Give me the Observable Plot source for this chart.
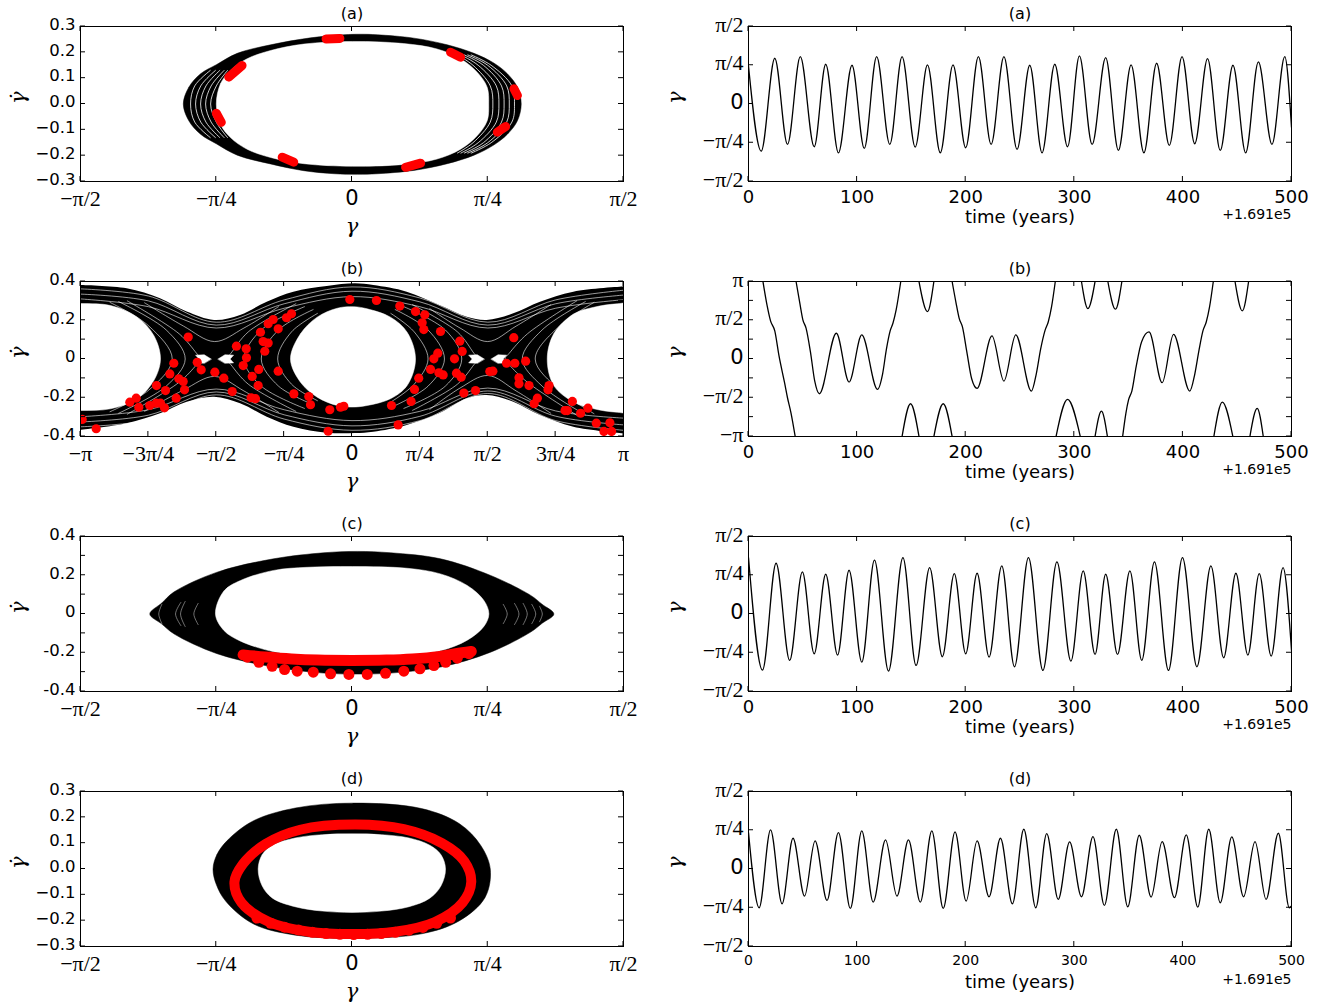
<!DOCTYPE html>
<html><head><meta charset="utf-8">
<script src="https://cdn.jsdelivr.net/npm/d3@7"></script>
<script src="https://cdn.jsdelivr.net/npm/@observablehq/plot@0.6"></script>
<style>
body{margin:0;background:#fff;}
#root{position:relative;width:1326px;height:1005px;background:#fff;overflow:hidden;}
#root svg{position:absolute;overflow:visible;}
</style></head><body><div id="root"></div>
<script>
const PI = Math.PI;

// ---------- tick values and labels ----------
const halfPiTickVals = [-PI/2, -PI/4, 0, PI/4, PI/2];
const halfPiTickLabels = ["−π/2", "−π/4", "0", "π/4", "π/2"];
const fullPiTickVals = [-PI, -3*PI/4, -PI/2, -PI/4, 0, PI/4, PI/2, 3*PI/4, PI];
const fullPiTickLabels = ["−π", "−3π/4", "−π/2", "−π/4", "0", "π/4", "π/2", "3π/4", "π"];
const yTicks03 = [0.3, 0.2, 0.1, 0, -0.1, -0.2, -0.3];
const yLabels03 = ["0.3", "0.2", "0.1", "0.0", "−0.1", "−0.2", "−0.3"];
const yTicks04 = [0.4, 0.3, 0.2, 0.1, 0, -0.1, -0.2, -0.3, -0.4];
const yLabelVals04 = [0.4, 0.2, 0, -0.2, -0.4];
const yLabels04 = ["0.4", "0.2", "0", "-0.2", "-0.4"];
const timeTicks = [0, 100, 200, 300, 400, 500];
const timeLabels = ["0", "100", "200", "300", "400", "500"];
const gammaLabelValsB = [-PI, -PI/2, 0, PI/2, PI];
const gammaLabelsB = ["−π", "−π/2", "0", "π/2", "π"];
const panelTitles = ["(a)", "(b)", "(c)", "(d)"];

// ---------- panel (a): phase portrait ----------
const aOuter = [[-0.976,0],[-0.944,0.065],[-0.876,0.117],[-0.785,0.152],[-0.664,0.196],[-0.471,0.229],[-0.240,0.256],[-0.048,0.268],[0.05,0.270],[0.146,0.268],[0.358,0.255],[0.551,0.229],[0.706,0.196],[0.822,0.158],[0.899,0.117],[0.957,0.065],[0.979,0],[0.957,-0.065],[0.899,-0.117],[0.822,-0.158],[0.706,-0.198],[0.551,-0.231],[0.358,-0.257],[0.146,-0.270],[0.03,-0.272],[-0.10,-0.270],[-0.28,-0.258],[-0.471,-0.232],[-0.664,-0.198],[-0.785,-0.154],[-0.876,-0.117],[-0.944,-0.065]];
const aInner = [[-0.785,0],[-0.761,0.078],[-0.703,0.130],[-0.607,0.175],[-0.471,0.207],[-0.279,0.232],[0.002,0.242],[0.299,0.234],[0.492,0.213],[0.628,0.175],[0.724,0.123],[0.782,0.065],[0.791,0],[0.782,-0.065],[0.724,-0.123],[0.628,-0.175],[0.492,-0.213],[0.299,-0.234],[0.002,-0.241],[-0.279,-0.231],[-0.471,-0.207],[-0.607,-0.175],[-0.703,-0.130],[-0.761,-0.078]];
const aGaps = [
  [[-0.82,0.13],[-0.91,0.07],[-0.934,0],[-0.91,-0.07],[-0.82,-0.13]],
  [[-0.79,0.13],[-0.875,0.07],[-0.905,0],[-0.875,-0.07],[-0.79,-0.13]],
  [[-0.765,0.13],[-0.845,0.07],[-0.876,0],[-0.845,-0.07],[-0.765,-0.13]],
  [[-0.74,0.13],[-0.815,0.07],[-0.847,0],[-0.815,-0.07],[-0.74,-0.13]],
  [[-0.72,0.13],[-0.785,0.07],[-0.818,0],[-0.785,-0.07],[-0.72,-0.13]],
  [[0.61,0.19],[0.70,0.15],[0.80,0.07],[0.815,0],[0.80,-0.07],[0.70,-0.15],[0.61,-0.19]],
  [[0.63,0.19],[0.73,0.15],[0.835,0.07],[0.850,0],[0.835,-0.07],[0.73,-0.15],[0.63,-0.19]],
  [[0.65,0.19],[0.76,0.15],[0.865,0.07],[0.880,0],[0.865,-0.07],[0.76,-0.15],[0.65,-0.19]],
  [[0.67,0.19],[0.785,0.15],[0.895,0.07],[0.910,0],[0.895,-0.07],[0.785,-0.15],[0.67,-0.19]],
  [[0.69,0.19],[0.805,0.15],[0.925,0.07],[0.940,0],[0.925,-0.07],[0.805,-0.15],[0.69,-0.19]]
];
const aRed = [
  [[-0.15,0.252],[-0.07,0.254]],
  [[0.570,0.200],[0.628,0.181]],
  [[0.937,0.059],[0.957,0.033]],
  [[0.889,-0.087],[0.841,-0.109]],
  [[0.310,-0.245],[0.397,-0.229]],
  [[-0.404,-0.206],[-0.337,-0.225]],
  [[-0.785,-0.036],[-0.756,-0.071]],
  [[-0.713,0.104],[-0.636,0.149]]
];

// ---------- panel (b): phase portrait ----------
const bEnvGamma = [-3.1416,-2.601,-2.216,-1.907,-1.591,-1.290,-0.981,-0.673,-0.287,0.040,0.252,0.638,1.024,1.333,1.564,1.872,2.181,2.567,3.1416];
const bEnvUpper = [0.379,0.362,0.311,0.242,0.199,0.225,0.293,0.345,0.374,0.388,0.379,0.345,0.275,0.216,0.199,0.233,0.293,0.345,0.371];
const bEnvLower = [-0.368,-0.334,-0.283,-0.223,-0.197,-0.231,-0.300,-0.352,-0.383,-0.385,-0.378,-0.343,-0.280,-0.205,-0.188,-0.223,-0.292,-0.352,-0.386];
const bIslandC = [[-0.712,0],[-0.596,0.130],[-0.403,0.216],[-0.171,0.262],[0.02,0.270],[0.175,0.259],[0.445,0.216],[0.638,0.138],[0.735,0],[0.638,-0.137],[0.445,-0.205],[0.175,-0.240],[0.0,-0.248],[-0.171,-0.240],[-0.403,-0.197],[-0.596,-0.120]];
const bIslandL = [[-3.6,0.286],[-3.1416,0.286],[-2.794,0.276],[-2.486,0.216],[-2.293,0.121],[-2.216,0],[-2.293,-0.111],[-2.486,-0.205],[-2.794,-0.257],[-3.1416,-0.266],[-3.6,-0.266]];
const bIslandR = [[2.259,0],[2.335,0.130],[2.567,0.233],[2.798,0.267],[3.069,0.285],[3.6,0.285],[3.6,-0.275],[3.069,-0.275],[2.798,-0.257],[2.567,-0.223],[2.335,-0.137]];
const bWedges = [
  [[-1.63,0],[-1.71,0.022],[-1.81,0.02],[-1.77,0],[-1.81,-0.02],[-1.71,-0.022]],
  [[-1.55,0],[-1.47,0.022],[-1.37,0.02],[-1.41,0],[-1.37,-0.02],[-1.47,-0.022]],
  [[1.53,0],[1.45,0.022],[1.35,0.02],[1.39,0],[1.35,-0.02],[1.45,-0.022]],
  [[1.61,0],[1.69,0.022],[1.79,0.02],[1.75,0],[1.79,-0.02],[1.69,-0.022]]
];
const bStreaks = [
  [[-3.1416,0.362],[-2.356,0.325],[-1.571,0.190],[-0.785,0.305],[0,0.372],[0.785,0.315],[1.571,0.190],[2.356,0.305],[3.1416,0.355]],
  [[-3.1416,0.335],[-2.356,0.300],[-1.571,0.175],[-0.785,0.285],[0,0.350],[0.785,0.295],[1.571,0.175],[2.356,0.285],[3.1416,0.330]],
  [[-3.1416,0.310],[-2.356,0.270],[-1.571,0.160],[-0.785,0.262],[0,0.322],[0.785,0.270],[1.571,0.160],[2.356,0.262],[3.1416,0.306]],
  [[-3.1416,-0.350],[-2.356,-0.315],[-1.571,-0.185],[-0.785,-0.310],[0,-0.368],[0.785,-0.318],[1.571,-0.178],[2.356,-0.318],[3.1416,-0.368]],
  [[-3.1416,-0.325],[-2.356,-0.290],[-1.571,-0.170],[-0.785,-0.288],[0,-0.345],[0.785,-0.296],[1.571,-0.165],[2.356,-0.295],[3.1416,-0.340]],
  [[-3.1416,-0.298],[-2.356,-0.262],[-1.571,-0.155],[-0.785,-0.262],[0,-0.318],[0.785,-0.270],[1.571,-0.150],[2.356,-0.268],[3.1416,-0.305]],
  [[-0.40,0.235],[-0.70,0.14],[-0.86,0],[-0.70,-0.13],[-0.40,-0.215]],
  [[-0.45,0.255],[-0.85,0.15],[-1.05,0],[-0.85,-0.14],[-0.45,-0.235]],
  [[-0.55,0.27],[-1.05,0.15],[-1.25,0],[-1.05,-0.14],[-0.55,-0.255]],
  [[-0.65,0.285],[-1.20,0.14],[-1.40,0.03],[-1.45,0],[-1.40,-0.03],[-1.20,-0.13],[-0.65,-0.27]],
  [[0.45,0.235],[0.72,0.14],[0.88,0],[0.72,-0.13],[0.45,-0.222]],
  [[0.50,0.255],[0.88,0.15],[1.07,0],[0.88,-0.14],[0.50,-0.24]],
  [[0.60,0.27],[1.08,0.15],[1.27,0],[1.08,-0.14],[0.60,-0.255]],
  [[0.70,0.28],[1.22,0.14],[1.41,0.03],[1.46,0],[1.41,-0.03],[1.22,-0.13],[0.70,-0.265]],
  [[-2.8,0.292],[-2.35,0.17],[-2.08,0],[-2.35,-0.16],[-2.8,-0.272]],
  [[-2.7,0.296],[-2.15,0.15],[-1.93,0],[-2.15,-0.14],[-2.7,-0.28]],
  [[-2.6,0.30],[-2.0,0.13],[-1.80,0.03],[-1.75,0],[-1.80,-0.03],[-2.0,-0.12],[-2.6,-0.285]],
  [[2.8,0.292],[2.40,0.17],[2.12,0],[2.40,-0.16],[2.8,-0.282]],
  [[2.7,0.296],[2.20,0.15],[1.97,0],[2.20,-0.14],[2.7,-0.288]],
  [[2.6,0.30],[2.03,0.13],[1.82,0.03],[1.77,0],[1.82,-0.03],[2.03,-0.12],[2.6,-0.29]],
  [[-2.4,0.29],[-1.95,0.17],[-1.59,0.09],[-1.25,0.16],[-0.85,0.27]],
  [[-2.4,-0.27],[-1.95,-0.16],[-1.59,-0.09],[-1.25,-0.165],[-0.85,-0.275]],
  [[0.9,0.26],[1.25,0.16],[1.57,0.09],[1.90,0.17],[2.3,0.28]],
  [[0.9,-0.26],[1.25,-0.15],[1.57,-0.085],[1.90,-0.165],[2.3,-0.28]]
];
const bDots = [[-3.122,-0.312],[-2.960,-0.360],[-2.571,-0.223],[-2.497,-0.202],[-2.467,-0.249],[-2.340,-0.240],[-2.266,-0.228],[-2.216,-0.228],[-2.170,-0.252],[-2.262,-0.137],[-2.158,-0.163],[-2.108,-0.077],[-2.062,-0.022],[-2.034,-0.202],[-2.004,-0.102],[-1.953,-0.116],[-1.938,-0.159],[-1.895,0.113],[-1.791,-0.017],[-1.745,-0.056],[-1.587,-0.068],[-1.483,-0.099],[-1.386,-0.168],[-1.337,0.066],[-1.259,-0.034],[-1.224,0.053],[-1.221,0.006],[-1.155,-0.090],[-1.086,-0.137],[-1.079,-0.054],[-1.167,-0.200],[-1.117,-0.205],[-1.059,0.138],[-1.009,0.040],[-1.028,0.090],[-0.970,0.082],[-0.970,0.182],[-0.912,0.204],[-0.854,0.156],[-0.854,-0.063],[-0.758,0.213],[-0.700,0.233],[-0.673,-0.180],[-0.500,-0.194],[-0.480,-0.236],[-0.257,-0.262],[-0.276,-0.373],[-0.133,-0.249],[-0.095,-0.244],[-0.025,0.307],[0.283,0.302],[0.553,0.273],[0.735,0.245],[0.842,0.228],[0.812,0.187],[0.831,0.152],[1.024,0.142],[1.247,0.092],[1.275,0.039],[1.186,0.001],[0.993,0.030],[0.947,0.001],[0.909,-0.054],[1.005,-0.071],[1.055,-0.082],[1.209,-0.073],[1.263,-0.094],[0.772,-0.099],[0.723,-0.157],[0.684,-0.219],[0.457,-0.240],[0.534,-0.340],[1.294,-0.176],[1.429,-0.163],[1.595,-0.065],[1.630,-0.063],[1.872,0.110],[1.788,-0.022],[1.884,-0.022],[2.009,-0.011],[1.932,-0.097],[1.932,-0.128],[2.048,-0.137],[2.280,-0.137],[2.268,-0.159],[2.145,-0.202],[2.107,-0.231],[2.550,-0.219],[2.492,-0.266],[2.465,-0.266],[2.645,-0.280],[2.730,-0.254],[2.827,-0.331],[2.984,-0.329],[2.915,-0.374],[3.004,-0.374]];

// ---------- panel (c): phase portrait ----------
const cOuter = [[-1.170,0],[-1.10,0.057],[-1.031,0.113],[-0.780,0.216],[-0.453,0.285],[-0.163,0.316],[0.030,0.323],[0.223,0.316],[0.512,0.285],[0.802,0.199],[1.034,0.096],[1.10,0.050],[1.168,0],[1.10,-0.048],[1.034,-0.093],[0.802,-0.197],[0.512,-0.274],[0.223,-0.305],[0.030,-0.310],[-0.163,-0.305],[-0.453,-0.274],[-0.780,-0.205],[-1.031,-0.102],[-1.10,-0.052]];
const cInner = [[-0.790,0],[-0.741,0.119],[-0.645,0.173],[-0.453,0.225],[-0.260,0.241],[0.002,0.245],[0.320,0.236],[0.512,0.207],[0.667,0.147],[0.763,0.070],[0.792,0],[0.763,-0.064],[0.667,-0.135],[0.512,-0.190],[0.320,-0.215],[0.002,-0.223],[-0.260,-0.218],[-0.453,-0.195],[-0.645,-0.140],[-0.741,-0.085]];
const cGaps = [
  [[-1.10,0.05],[-1.118,0],[-1.10,-0.05]],
  [[-0.99,0.06],[-1.021,0],[-0.99,-0.06]],
  [[-0.965,0.065],[-0.992,0],[-0.965,-0.065]],
  [[-0.89,0.055],[-0.915,0],[-0.89,-0.055]],
  [[0.875,0.05],[0.898,0],[0.875,-0.05]],
  [[0.94,0.055],[0.966,0],[0.94,-0.055]],
  [[0.99,0.055],[1.014,0],[0.99,-0.055]],
  [[1.04,0.05],[1.063,0],[1.04,-0.05]],
  [[1.085,0.04],[1.101,0],[1.085,-0.04]]
];
const cRedUpper = [[-0.63,-0.211],[-0.5,-0.222],[-0.35,-0.232],[-0.2,-0.238],[0,-0.240],[0.2,-0.238],[0.35,-0.232],[0.5,-0.220],[0.6,-0.205],[0.69,-0.193]];
const cRedLower = [[-0.606,-0.223],[-0.539,-0.249],[-0.462,-0.270],[-0.390,-0.287],[-0.317,-0.295],[-0.224,-0.300],[-0.124,-0.309],[-0.018,-0.312],[0.088,-0.312],[0.194,-0.306],[0.300,-0.295],[0.393,-0.283],[0.474,-0.266],[0.542,-0.249],[0.609,-0.228],[0.676,-0.205]];

// ---------- panel (d): phase portrait ----------
const dOuter = [[-0.804,0],[-0.782,0.055],[-0.722,0.110],[-0.572,0.186],[-0.328,0.236],[0.0,0.255],[0.402,0.234],[0.622,0.175],[0.744,0.092],[0.800,0],[0.770,-0.110],[0.622,-0.200],[0.402,-0.251],[0.0,-0.268],[-0.328,-0.256],[-0.572,-0.212],[-0.730,-0.125],[-0.785,-0.060]];
const dInner = [[-0.543,0],[-0.52,0.055],[-0.46,0.092],[-0.33,0.120],[-0.17,0.133],[0.0,0.136],[0.17,0.133],[0.33,0.120],[0.45,0.092],[0.515,0.055],[0.541,0],[0.515,-0.065],[0.45,-0.113],[0.33,-0.146],[0.17,-0.163],[0.0,-0.168],[-0.17,-0.163],[-0.33,-0.146],[-0.46,-0.113],[-0.52,-0.065]];
const dRedRing = [[0.02,0.172],[-0.3,0.152],[-0.5,0.097],[-0.63,0.02],[-0.68,-0.05],[-0.64,-0.13],[-0.48,-0.205],[-0.25,-0.243],[0.0,-0.252],[0.25,-0.243],[0.48,-0.205],[0.64,-0.13],[0.69,-0.05],[0.65,0.03],[0.52,0.10],[0.30,0.154]];
const dRedDots = [[-0.55,-0.19],[-0.47,-0.21],[-0.39,-0.225],[-0.31,-0.236],[-0.23,-0.245],[-0.15,-0.25],[-0.07,-0.253],[0.01,-0.254],[0.09,-0.253],[0.17,-0.25],[0.25,-0.245],[0.33,-0.237],[0.41,-0.226],[0.49,-0.21],[0.57,-0.19]];

// ---------- time series: [time (yr), gamma in units of pi/4] ----------
const tsA = [[0,0.98],[11.7,-1.216],[24.2,1.181],[35.9,-1.043],[47.7,1.224],[60.5,-1.103],[71.1,1.026],[82.8,-1.259],[95.3,1.0],[106.6,-1.147],[118.0,1.224],[130.1,-1.043],[141.4,1.224],[153.5,-1.112],[164.8,1.009],[176.6,-1.259],[188.3,1.009],[200,-1.129],[211.7,1.224],[223.4,-1.043],[235.2,1.224],[247.3,-1.172],[259.0,1.0],[270.3,-1.259],[282.0,1.026],[293.8,-1.103],[304.7,1.241],[316.4,-1.043],[328.9,1.198],[340.6,-1.198],[352.3,1.009],[364.1,-1.259],[375.8,1.052],[387.5,-1.069],[399.2,1.224],[410.9,-1.026],[422.7,1.172],[434.4,-1.198],[446.1,1.0],[457.8,-1.259],[469.5,1.086],[482.0,-1.043],[493.8,1.224],[500,-0.6]];
const tsC = [[0,1.457],[12.9,-1.448],[25.4,1.310],[37.9,-1.198],[49.6,1.086],[60.5,-1.026],[71.1,1.026],[82.0,-1.060],[92.6,1.129],[104.3,-1.241],[116.0,1.388],[128.9,-1.474],[142.2,1.457],[154.3,-1.328],[166.8,1.198],[178.5,-1.103],[189.5,1.043],[200,-1.026],[210.5,1.052],[221.5,-1.112],[233.2,1.241],[244.9,-1.362],[257.8,1.457],[271.1,-1.457],[284.0,1.345],[296.9,-1.216],[308.2,1.112],[319.1,-1.043],[328.9,1.026],[339.8,-1.043],[351.2,1.112],[362.1,-1.198],[373.8,1.345],[386.7,-1.457],[399.6,1.457],[412.9,-1.362],[425.8,1.241],[437.5,-1.129],[448.8,1.052],[459.8,-1.060],[470.3,1.043],[481.3,-1.086],[492.2,1.198],[500,-0.94]];
const tsD = [[0,0.94],[9.8,-1.0],[20.3,1.009],[30.9,-0.897],[41.0,0.793],[51.6,-0.698],[61.3,0.724],[72.3,-0.810],[82.8,0.940],[93.8,-1.017],[104.3,0.983],[114.8,-0.853],[126.2,0.750],[136.7,-0.698],[147.3,0.750],[158.2,-0.853],[168.8,0.983],[179.3,-1.017],[190.2,0.957],[200.4,-0.828],[210.5,0.724],[221.5,-0.716],[232.0,0.793],[243.0,-0.897],[253.5,1.026],[264.5,-1.0],[274.6,0.914],[285.2,-0.784],[295.7,0.698],[306.6,-0.716],[317.2,0.836],[327.7,-0.940],[338.7,1.026],[349.2,-0.974],[359.8,0.871],[370.7,-0.724],[380.9,0.707],[392.2,-0.741],[403.1,0.879],[413.7,-0.983],[423.8,1.026],[434.4,-0.871],[445.0,0.828],[455.9,-0.716],[466.4,0.707],[476.6,-0.784],[487.9,0.922],[498.0,-1.0],[500,-0.95]];
// (b) wrapped angle, radians, one array per continuous piece
const tsB = [
  [[13.3,3.1416],[17.2,2.153],[20.3,1.544],[24.2,1.137],[28.1,0.122],[33.2,-0.961],[35.9,-1.571],[39.1,-2.180],[43.0,-3.1416]],
  [[43.8,3.1416],[47.5,2.2],[50.0,1.6],[53.0,1.25],[57.0,0.3],[61.0,-0.9],[65.2,-1.408],[80.9,1.043],[92.6,-0.934],[104.3,0.975],[118.8,-1.232],[123.5,-0.6],[127.0,0.4],[130.5,1.15],[133.0,1.45],[136.0,2.0],[140.2,3.1416]],
  [[141.4,-3.1416],[149.2,-1.814],[157.0,-3.1416]],
  [[157.0,3.1416],[164.8,1.923],[170.7,3.1416]],
  [[170.7,-3.1416],[179.3,-1.814],[187.5,-3.1416]],
  [[187.5,3.1416],[191.0,2.3],[194.0,1.65],[197.0,1.3],[201.0,0.3],[205.5,-0.8],[210.5,-1.192],[224.2,0.934],[235.2,-0.894],[246.1,0.975],[260.5,-1.300],[265.0,-0.6],[269.0,0.4],[273.0,1.15],[276.0,1.5],[279.0,2.1],[282.5,3.1416]],
  [[283.2,-3.1416],[293.8,-1.638],[305.5,-3.1416]],
  [[306.6,3.1416],[312.5,2.045],[319.1,3.1416]],
  [[319.1,-3.1416],[325.0,-2.112],[330.5,-3.1416]],
  [[330.9,3.1416],[337.9,2.018],[343.8,3.1416]],
  [[344.5,-3.1416],[347.5,-2.2],[350.0,-1.65],[353.0,-1.3],[357.0,-0.3],[362.0,0.7],[368.8,1.097],[380.9,-0.961],[391.4,1.002],[406.3,-1.300],[411.0,-0.6],[415.0,0.4],[418.5,1.15],[421.5,1.5],[424.5,2.1],[428.0,3.1416]],
  [[428.5,-3.1416],[436.3,-1.747],[446.0,-3.1416]],
  [[448.0,3.1416],[454.7,1.950],[460.5,3.1416]],
  [[461.7,-3.1416],[468.4,-2.004],[474.0,-3.1416]]
];

// ---------- helpers ----------
const SANS = "DejaVu Sans";
const SERIF = "Liberation Serif";
const MATH = "DejaVu Serif";
const root = document.getElementById("root");
const flat = (arr) => arr.flatMap((pts, id) => pts.map(([x, y]) => ({x, y, id})));
const pairs = (arr) => arr.map(([x, y]) => ({x, y}));

function shape(pts, color) {
  return Plot.line(pairs(pts), {x: "x", y: "y", curve: "catmull-rom-closed", fill: color, stroke: color, strokeWidth: 0.5, clip: true});
}
function arcs(list, color, w) {
  return Plot.line(flat(list), {x: "x", y: "y", z: "id", curve: "catmull-rom", stroke: color, strokeWidth: w, clip: true});
}

function tickText(axis, vals, labels, font, size, zeroFont, zeroSize) {
  const rows = vals.map((v, i) => ({v, label: labels[i]}));
  const isZero = d => zeroFont && d.label === "0";
  const base = axis === "x"
    ? {x: "v", text: "label", frameAnchor: "bottom", dy: 9, lineAnchor: "top", fill: "black"}
    : {y: "v", text: "label", frameAnchor: "left", dx: -5, dy: -2, textAnchor: "end", lineAnchor: "middle", fill: "black"};
  const out = [Plot.text(rows.filter(d => !isZero(d)), {...base, fontFamily: font, fontSize: size})];
  if (zeroFont) out.push(Plot.text(rows.filter(isZero), {...base, fontFamily: zeroFont, fontSize: zeroSize}));
  return out;
}

function panel(cfg) {
  const W = 663, H = 255;
  const mL = cfg.mL, mR = W - mL - 543;
  const marks = [
    ...cfg.marks,
    Plot.frame({stroke: "black", strokeWidth: 1}),
    ...cfg.labels,
    Plot.text([cfg.title], {text: d => d, frameAnchor: "top", dy: -13, lineAnchor: "middle", fontFamily: SANS, fontSize: 16, fill: "black"})
  ];
  const chart = Plot.plot({
    width: W, height: H,
    marginLeft: mL, marginRight: mR, marginTop: 26, marginBottom: 74,
    x: {domain: cfg.xDomain, axis: null},
    y: {domain: cfg.yDomain, axis: null},
    style: {background: "transparent", overflow: "visible"},
    marks
  });
  chart.style.left = cfg.left + "px";
  chart.style.top = cfg.top + "px";
  root.appendChild(chart);
  // inward ticks on all four sides, positioned by Plot's scales
  const sx = chart.scale("x"), sy = chart.scale("y");
  const [xl, xr] = sx.range, [yb, yt] = sy.range;
  const g = d3.select(chart).append("g").attr("stroke", "black").attr("stroke-width", 1);
  const L = 5;
  for (const v of cfg.xTicks) {
    const p = sx.apply(v);
    g.append("line").attr("x1", p).attr("x2", p).attr("y1", yb).attr("y2", yb - L);
    g.append("line").attr("x1", p).attr("x2", p).attr("y1", yt).attr("y2", yt + L);
  }
  for (const v of cfg.yTicks) {
    const p = sy.apply(v);
    g.append("line").attr("y1", p).attr("y2", p).attr("x1", xl).attr("x2", xl + L);
    g.append("line").attr("y1", p).attr("y2", p).attr("x1", xr).attr("x2", xr - L);
  }
}

function leftLabels(xVals, xLabs, yVals, yLabs) {
  return [
    ...tickText("x", xVals, xLabs, SERIF, 22, SANS, 21),
    ...tickText("y", yVals, yLabs, SANS, 16.5),
    Plot.text(["γ"], {text: d => d, frameAnchor: "bottom", dy: 45, lineAnchor: "middle", fontFamily: MATH, fontStyle: "italic", fontSize: 21, fill: "black"}),
    Plot.text(["γ\u0307"], {text: d => d, frameAnchor: "left", dx: -62, rotate: -90, lineAnchor: "middle", fontFamily: MATH, fontStyle: "italic", fontSize: 21, fill: "black"})
  ];
}
function rightLabels(yVals, yLabs, timeSize) {
  return [
    ...tickText("x", timeTicks, timeLabels, SANS, timeSize),
    ...tickText("y", yVals, yLabs, SERIF, 22, SANS, 21),
    Plot.text(["time (years)"], {text: d => d, frameAnchor: "bottom", dy: 36, lineAnchor: "middle", fontFamily: SANS, fontSize: 18, fill: "black"}),
    Plot.text(["+1.691e5"], {text: d => d, frameAnchor: "bottom-right", dy: 33, textAnchor: "end", lineAnchor: "middle", fontFamily: SANS, fontSize: 14, fill: "black"}),
    Plot.text(["γ"], {text: d => d, frameAnchor: "left", dx: -73, rotate: -90, lineAnchor: "middle", fontFamily: MATH, fontStyle: "italic", fontSize: 21, fill: "black"})
  ];
}
const RED = "#ff0000";
const tsLine = (arr) => Plot.line(arr.map(([t, u]) => ({t, g: u * PI / 4})), {x: "t", y: "g", curve: "monotone-x", stroke: "black", strokeWidth: 1.3, clip: true});
const quarterTicks = [-PI/2, -PI/4, 0, PI/4, PI/2];
const quarterTicksFull = [-PI, -3*PI/4, -PI/2, -PI/4, 0, PI/4, PI/2, 3*PI/4, PI];

// ---------- row (a) ----------
panel({left: 0, top: 0, mL: 80, title: panelTitles[0], xDomain: [-PI/2, PI/2], yDomain: [-0.3, 0.3],
  xTicks: halfPiTickVals, yTicks: yTicks03,
  labels: leftLabels(halfPiTickVals, halfPiTickLabels, yTicks03, yLabels03),
  marks: [shape(aOuter, "black"), shape(aInner, "white"), arcs(aGaps, "white", 0.8),
    Plot.line(flat(aRed), {x: "x", y: "y", z: "id", stroke: RED, strokeWidth: 9, strokeLinecap: "round", clip: true})]});
panel({left: 663, top: 0, mL: 85, title: panelTitles[0], xDomain: [0, 500], yDomain: [-PI/2, PI/2],
  xTicks: timeTicks, yTicks: quarterTicks,
  labels: rightLabels(halfPiTickVals, halfPiTickLabels, 18),
  marks: [tsLine(tsA)]});

// ---------- row (b) ----------
panel({left: 0, top: 255, mL: 80, title: panelTitles[1], xDomain: [-PI, PI], yDomain: [-0.4, 0.4],
  xTicks: fullPiTickVals, yTicks: yTicks04,
  labels: leftLabels(fullPiTickVals, fullPiTickLabels, yLabelVals04, yLabels04),
  marks: [
    Plot.areaY(bEnvGamma.map((g, i) => ({g, lo: bEnvLower[i], hi: bEnvUpper[i]})), {x: "g", y1: "lo", y2: "hi", curve: "catmull-rom", fill: "black", clip: true}),
    arcs(bStreaks, "white", 0.6),
    shape(bIslandC, "white"), shape(bIslandL, "white"), shape(bIslandR, "white"),
    Plot.line(flat(bWedges), {x: "x", y: "y", z: "id", curve: "linear-closed", fill: "white", stroke: "white", strokeWidth: 0.5, clip: true}),
    Plot.dot(pairs(bDots), {x: "x", y: "y", r: 4.6, fill: RED, stroke: "none", clip: true})
  ]});
panel({left: 663, top: 255, mL: 85, title: panelTitles[1], xDomain: [0, 500], yDomain: [-PI, PI],
  xTicks: timeTicks, yTicks: quarterTicksFull,
  labels: rightLabels(gammaLabelValsB, gammaLabelsB, 18),
  marks: [Plot.line(flat(tsB), {x: "x", y: "y", z: "id", curve: "monotone-x", stroke: "black", strokeWidth: 1.3, clip: true})]});

// ---------- row (c) ----------
panel({left: 0, top: 510, mL: 80, title: panelTitles[2], xDomain: [-PI/2, PI/2], yDomain: [-0.4, 0.4],
  xTicks: halfPiTickVals, yTicks: yTicks04,
  labels: leftLabels(halfPiTickVals, halfPiTickLabels, yLabelVals04, yLabels04),
  marks: [shape(cOuter, "black"), shape(cInner, "white"), arcs(cGaps, "#bbb", 0.6),
    Plot.line(pairs(cRedUpper), {x: "x", y: "y", curve: "catmull-rom", stroke: RED, strokeWidth: 11, strokeLinecap: "round", clip: true}),
    Plot.dot(pairs(cRedLower), {x: "x", y: "y", r: 5.5, fill: RED, stroke: "none", clip: true})]});
panel({left: 663, top: 510, mL: 85, title: panelTitles[2], xDomain: [0, 500], yDomain: [-PI/2, PI/2],
  xTicks: timeTicks, yTicks: quarterTicks,
  labels: rightLabels(halfPiTickVals, halfPiTickLabels, 18),
  marks: [tsLine(tsC)]});

// ---------- row (d) ----------
panel({left: 0, top: 765, mL: 80, title: panelTitles[3], xDomain: [-PI/2, PI/2], yDomain: [-0.3, 0.3],
  xTicks: halfPiTickVals, yTicks: yTicks03,
  labels: leftLabels(halfPiTickVals, halfPiTickLabels, yTicks03, yLabels03),
  marks: [shape(dOuter, "black"), shape(dInner, "white"),
    Plot.line(pairs(dRedRing), {x: "x", y: "y", curve: "catmull-rom-closed", stroke: RED, strokeWidth: 10, fill: "none", clip: true}),
    Plot.dot(pairs(dRedDots), {x: "x", y: "y", r: 5.5, fill: RED, stroke: "none", clip: true})]});
panel({left: 663, top: 765, mL: 85, title: panelTitles[3], xDomain: [0, 500], yDomain: [-PI/2, PI/2],
  xTicks: timeTicks, yTicks: quarterTicks,
  labels: rightLabels(halfPiTickVals, halfPiTickLabels, 14),
  marks: [tsLine(tsD)]});
</script></body></html>
